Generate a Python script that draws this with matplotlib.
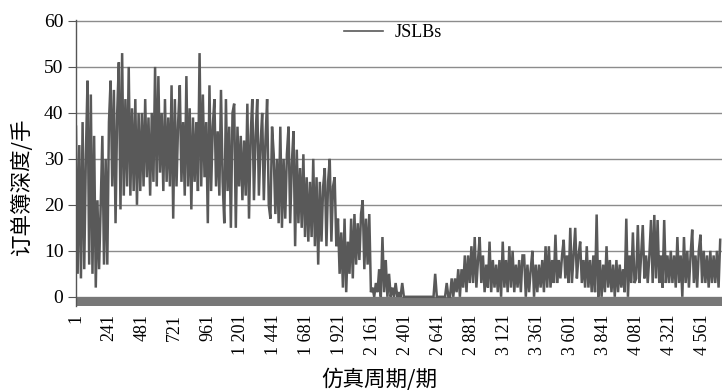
import numpy as np
import matplotlib.pyplot as plt

plt.rcParams['font.family'] = ['Liberation Serif', 'Noto Sans CJK SC']

# order book depth, one reading every 12 periods
step = 12
depth = [
    37, 5, 33, 4, 38, 6, 31, 47, 7, 44, 5, 35, 2, 21, 6, 20, 35, 7, 30, 7,
    38, 47, 24, 45, 16, 40, 51, 19, 53, 22, 43, 24, 50, 22, 41, 23, 43, 20, 40, 23,
    40, 24, 43, 26, 39, 22, 40, 25, 50, 24, 48, 27, 40, 23, 43, 25, 39, 24, 46, 17,
    43, 24, 38, 46, 25, 38, 22, 48, 24, 41, 19, 39, 25, 38, 23, 53, 24, 44, 26, 38,
    16, 46, 23, 37, 43, 24, 36, 22, 45, 25, 16, 43, 23, 37, 15, 40, 42, 15, 37, 24,
    35, 21, 34, 22, 42, 17, 35, 43, 21, 35, 43, 22, 33, 40, 21, 34, 43, 20, 17, 37,
    31, 18, 30, 16, 37, 15, 30, 17, 31, 37, 16, 29, 36, 11, 32, 16, 28, 15, 31, 13,
    26, 12, 25, 13, 30, 11, 26, 7, 25, 12, 24, 28, 11, 25, 30, 12, 24, 26, 11, 17,
    5, 14, 2, 17, 1, 12, 5, 17, 4, 18, 7, 16, 8, 18, 21, 6, 17, 7, 18, 1,
    2, 0, 3, 1, 6, 0, 13, 1, 8, 0, 5, 0, 2, 0, 3, 0, 1, 0, 3, 0,
    0, 0, 0, 0, 0, 0, 0, 0, 0, 0, 0, 0, 0, 0, 0, 0, 0, 0, 5, 0,
    0, 0, 0, 0, 0, 3, 0, 0, 4, 0, 4, 1, 6, 0, 6, 2, 9, 1, 9, 3,
    11, 3, 13, 2, 8, 13, 3, 9, 1, 7, 2, 12, 1, 8, 2, 7, 1, 8, 0, 12,
    2, 8, 1, 11, 2, 10, 1, 7, 2, 8, 1, 9, 9, 0, 7, 1, 6, 10, 0, 7,
    1, 7, 2, 8, 1, 11, 2, 11, 2, 8, 3, 13.5, 3, 8, 4, 9, 12.4, 4, 9, 3,
    15, 3, 9, 15, 4, 9, 12, 3, 8, 2, 11, 2, 8, 1, 9, 1, 17.9, 0, 8, 0,
    7, 1, 11, 2, 8, 1, 7, 0, 8, 1, 7, 2, 6, 1, 17, 0, 9, 3, 14, 3,
    4, 15.6, 3, 9, 15.6, 4, 9, 3, 9, 16.7, 3, 17.8, 4, 16.7, 3, 9, 2, 16.7, 3, 9,
    3, 10, 3, 9, 2, 13, 3, 9, 0, 13, 3, 10, 2, 9, 14.6, 3, 9, 2, 10, 13.5,
    3, 10, 3, 9, 2, 10, 3, 9, 3, 10, 2, 12.4,
]
period = 1 + step * np.arange(len(depth))

tick_periods = [1, 241, 481, 721, 961, 1201, 1441, 1681, 1921, 2161,
                2401, 2641, 2881, 3121, 3361, 3601, 3841, 4081, 4321, 4561]
tick_labels = ['1', '241', '481', '721', '961', '1 201', '1 441', '1 681',
               '1 921', '2 161', '2 401', '2 641', '2 881', '3 121', '3 361',
               '3 601', '3 841', '4 081', '4 321', '4 561']
y_ticks = [0, 10, 20, 30, 40, 50, 60]

fig = plt.figure(figsize=(7.22, 3.91), dpi=100)
ax = fig.add_axes([76 / 722, 85 / 391, 646 / 722, 286 / 391])

# thick stroke so the dense zigzag reads as a band
ax.plot(period, depth, color='#595959', lw=1.8, solid_joinstyle='miter',
        label='JSLBs')
ax.axhspan(-2, 0, color='#777777', lw=0)

ax.set_xlim(1, 4706)
ax.set_ylim(-2, 60.2)
ax.set_yticks(y_ticks)
ax.yaxis.grid(True, color='#8c8c8c', lw=1.0)
ax.set_axisbelow(True)

for side in ['top', 'right', 'bottom']:
    ax.spines[side].set_visible(False)
ax.spines['left'].set_color('#555555')
ax.spines['left'].set_linewidth(1.0)

ax.tick_params(axis='y', length=6, color='#555555', labelsize=14, pad=3)
ax.set_xticks(tick_periods, tick_labels, rotation=90)
ax.tick_params(axis='x', length=0, labelsize=13, pad=6)

ax.set_ylabel('订单簿深度/手', fontfamily='Noto Sans CJK SC', fontsize=15.5)
ax.yaxis.set_label_coords(-0.066, 0.42)
ax.set_xlabel('仿真周期/期', fontfamily='Noto Sans CJK SC', fontsize=15.5)
ax.xaxis.set_label_coords(0.47, -0.22)

leg = ax.legend(loc='center', bbox_to_anchor=(0.49, 0.955), frameon=False,
                fontsize=13, handlelength=2.2, handletextpad=0.6)
leg.get_lines()[0].set_linewidth(1.2)

fig.savefig('out.png', dpi=100)
